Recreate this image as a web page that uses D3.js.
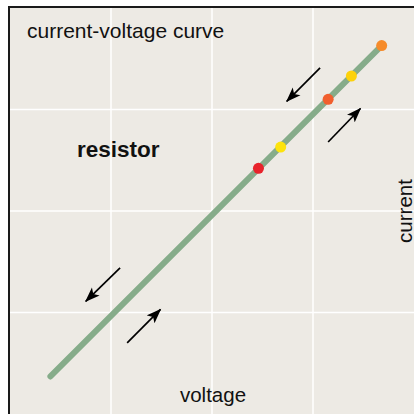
<!DOCTYPE html>
<html>
<head>
<meta charset="utf-8">
<script src="https://cdn.jsdelivr.net/npm/d3@7"></script>
<style>
  html, body { margin: 0; padding: 0; background: #ffffff; }
  svg { display: block; font-family: "Liberation Sans", Arial, Helvetica, sans-serif; }
</style>
</head>
<body>
<div id="chart"></div>
<script>
// current-voltage curve of a resistor (voltage, current)
const curveVoltage = [0.40, 3.68];
const curveCurrent = [0.37, 3.63];

// marked points along the line
const pointVoltage = [3.68, 3.38, 3.15, 2.68, 2.46];
const pointCurrent = [3.63, 3.33, 3.10, 2.63, 2.42];
const pointColors = ['#f68b2a', '#fdd20a', '#f15f2e', '#fde30c', '#e8232b'];

// direction arrows: [v0, i0, v1, i1]
const arrows = [
  [3.07, 3.41, 2.74, 3.08],
  [3.15, 2.68, 3.47, 3.01],
  [1.09, 1.44, 0.75, 1.11],
  [1.16, 0.70, 1.49, 1.03]
];

const gridTicks = [1, 2, 3];

const W = 416, H = 414;
const panel = { left: 10, top: 8, right: 414, bottom: 414 };

const svg = d3.select('#chart').append('svg')
  .attr('width', W)
  .attr('height', H);

const x = d3.scaleLinear().domain([0, 4]).range([panel.left, panel.right]);
const y = d3.scaleLinear().domain([0, 4]).range([panel.bottom, panel.top]);

svg.append('defs').append('marker')
  .attr('id', 'head')
  .attr('viewBox', '0 -6 16 12')
  .attr('refX', 14)
  .attr('refY', 0)
  .attr('markerUnits', 'userSpaceOnUse')
  .attr('markerWidth', 16)
  .attr('markerHeight', 12)
  .attr('orient', 'auto')
  .append('path')
  .attr('d', 'M0,-5.5L15,0L0,5.5L3.5,0Z')
  .attr('fill', '#000');

// panel background
svg.append('rect')
  .attr('x', panel.left)
  .attr('y', panel.top)
  .attr('width', panel.right - panel.left)
  .attr('height', panel.bottom - panel.top)
  .attr('fill', '#edeae4');

// grid lines
svg.append('g').selectAll('line.v')
  .data(gridTicks).enter().append('line')
  .attr('x1', d => x(d)).attr('x2', d => x(d))
  .attr('y1', panel.top).attr('y2', panel.bottom)
  .attr('stroke', '#ffffff').attr('stroke-width', 1.5);

svg.append('g').selectAll('line.h')
  .data(gridTicks).enter().append('line')
  .attr('y1', d => y(d)).attr('y2', d => y(d))
  .attr('x1', panel.left).attr('x2', panel.right)
  .attr('stroke', '#ffffff').attr('stroke-width', 1.5);

// frame: top and left
svg.append('line')
  .attr('x1', panel.left - 1).attr('x2', panel.right)
  .attr('y1', panel.top - 1).attr('y2', panel.top - 1)
  .attr('stroke', '#1a1a1a').attr('stroke-width', 2);
svg.append('line')
  .attr('x1', panel.left - 1).attr('x2', panel.left - 1)
  .attr('y1', panel.top - 2).attr('y2', panel.bottom)
  .attr('stroke', '#1a1a1a').attr('stroke-width', 2);

// the curve
const line = d3.line().x(d => x(d[0])).y(d => y(d[1]));
svg.append('path')
  .datum(d3.zip(curveVoltage, curveCurrent))
  .attr('d', line)
  .attr('fill', 'none')
  .attr('stroke', '#86ac8a')
  .attr('stroke-width', 6)
  .attr('stroke-linecap', 'round');

// points
svg.append('g').selectAll('circle')
  .data(d3.zip(pointVoltage, pointCurrent, pointColors))
  .enter().append('circle')
  .attr('cx', d => x(d[0]))
  .attr('cy', d => y(d[1]))
  .attr('r', 5.5)
  .attr('fill', d => d[2]);

// arrows
svg.append('g').selectAll('line')
  .data(arrows).enter().append('line')
  .attr('x1', d => x(d[0])).attr('y1', d => y(d[1]))
  .attr('x2', d => x(d[2])).attr('y2', d => y(d[3]))
  .attr('stroke', '#000')
  .attr('stroke-width', 1.7)
  .attr('marker-end', 'url(#head)');

// texts
svg.append('text')
  .attr('x', 27).attr('y', 38)
  .attr('font-size', 21)
  .attr('fill', '#111')
  .text('current-voltage curve');

svg.append('text')
  .attr('x', 77).attr('y', 157)
  .attr('font-size', 22.5)
  .attr('font-weight', 'bold')
  .attr('fill', '#111')
  .text('resistor');

svg.append('text')
  .attr('x', 213).attr('y', 402)
  .attr('text-anchor', 'middle')
  .attr('font-size', 20.5)
  .attr('fill', '#111')
  .text('voltage');

svg.append('text')
  .attr('transform', 'translate(412,211) rotate(-90)')
  .attr('text-anchor', 'middle')
  .attr('font-size', 20.5)
  .attr('fill', '#111')
  .text('current');
</script>
</body>
</html>
